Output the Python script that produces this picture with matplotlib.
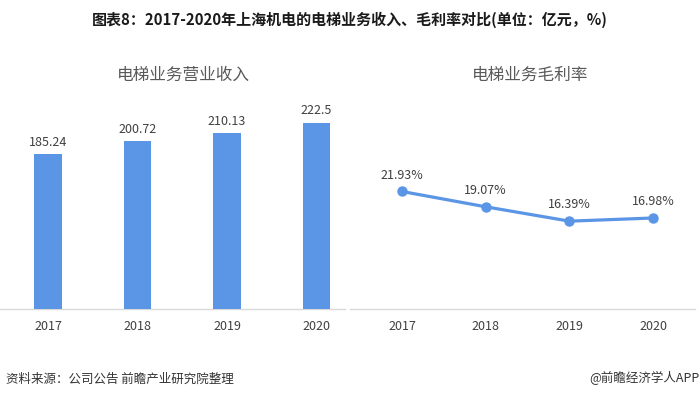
import numpy as np
import matplotlib
matplotlib.use("Agg")
import matplotlib.pyplot as plt

plt.rcParams['font.family'] = ['Noto Sans CJK SC', 'DejaVu Sans']

# data
years = ['2017', '2018', '2019', '2020']
revenue = [185.24, 200.72, 210.13, 222.5]
revenue_labels = ['185.24', '200.72', '210.13', '222.5']
margin = [21.93, 19.07, 16.39, 16.98]
margin_labels = ['21.93%', '19.07%', '16.39%', '16.98%']

title = '图表8：2017-2020年上海机电的电梯业务收入、毛利率对比(单位：亿元，%)'
left_title = '电梯业务营业收入'
right_title = '电梯业务毛利率'
source = '资料来源：公司公告 前瞻产业研究院整理'
credit = '@前瞻经济学人APP'

blue = '#5B95E6'
text_col = '#404040'
axis_col = '#D9D9D9'

fig = plt.figure(figsize=(7, 3.99), dpi=100)

x = np.arange(len(years))

# left: revenue bars
ax1 = fig.add_axes([0.0, 0.2256, 0.493, 0.5238])
ax1.bar(x, revenue, width=0.31, color=blue, zorder=3)
for xi, v, lab in zip(x, revenue, revenue_labels):
    ax1.annotate(lab, (xi, v), xytext=(0, 4), textcoords='offset points',
                 ha='center', va='bottom', fontsize=9, color=text_col)
ax1.set_xlim(-0.536, 3.32)
ax1.set_ylim(0, 250)

# right: margin line
ax2 = fig.add_axes([0.5, 0.2256, 0.493, 0.5238])
ax2.plot(x, margin, color=blue, linewidth=2.3, marker='o', markersize=6.5, zorder=3)
for xi, v, lab in zip(x, margin, margin_labels):
    ax2.annotate(lab, (xi, v), xytext=(0, 7), textcoords='offset points',
                 ha='center', va='bottom', fontsize=9, color=text_col)
ax2.set_xlim(-0.62, 3.50)
ax2.set_ylim(0, 39)

for ax in (ax1, ax2):
    ax.patch.set_alpha(0)
    for s in ['top', 'right', 'left']:
        ax.spines[s].set_visible(False)
    ax.spines['bottom'].set_color(axis_col)
    ax.spines['bottom'].set_linewidth(1.0)
    ax.set_yticks([])
    ax.set_xticks(x)
    ax.set_xticklabels(years, fontsize=9, color=text_col)
    ax.tick_params(axis='x', length=0, pad=8)

fig.text(183 / 700, 1 - 75 / 399, left_title, fontsize=12, color='#595959', ha='center', va='center')
fig.text(530 / 700, 1 - 75 / 399, right_title, fontsize=12, color='#595959', ha='center', va='center')

fig.text(350 / 700, 1 - 20 / 399, title, fontsize=10.8, fontweight='bold', color='#1a1a1a',
         ha='center', va='center')
fig.text(6 / 700, 1 - 379 / 399, source, fontsize=9, color='#333333', ha='left', va='center')
fig.text(699 / 700, 1 - 378 / 399, credit, fontsize=9, color='#333333', ha='right', va='center')

fig.savefig('out.png', dpi=100)
